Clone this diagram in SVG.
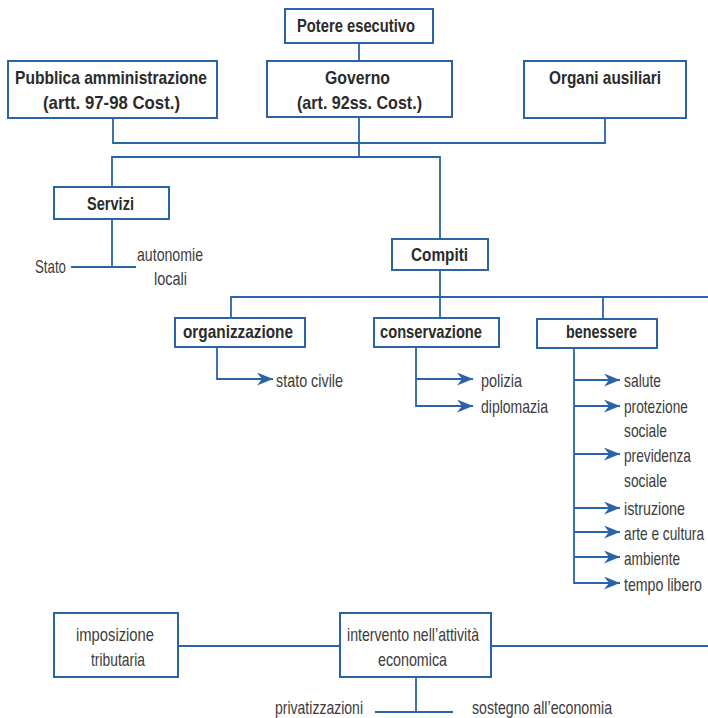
<svg xmlns="http://www.w3.org/2000/svg" width="708" height="718" viewBox="0 0 708 718">
<style>
.box{fill:#fff;stroke:#2a63a8;stroke-width:2}
.ln{fill:none;stroke:#2a63a8;stroke-width:1.8}
.b{font-family:"Liberation Sans Narrow","Liberation Sans",Arial,sans-serif;font-weight:bold;font-size:18.5px;fill:#2b2b2b}
.r{font-family:"Liberation Sans Narrow","Liberation Sans",Arial,sans-serif;font-size:18.5px;fill:#3c3c3c}
</style>
<defs>
<marker id="ar" markerUnits="userSpaceOnUse" markerWidth="17" markerHeight="13" refX="16" refY="6.5" orient="auto" viewBox="0 0 17 13">
<path d="M0,0 L16,6.5 L0,13 L5,6.5 Z" fill="#2a63a8"/>
</marker>
</defs>
<rect width="708" height="718" fill="#fff"/>
<g id="connectors">
<path class="ln" d="M359,43 V61"/>
<path class="ln" d="M113,118 V143 H605 V118"/>
<path class="ln" d="M359,118 V157"/>
<path class="ln" d="M112,187 V157 H440 V239"/>
<path class="ln" d="M112,219 V267 M71,267 H136"/>
<path class="ln" d="M440,270 V318 M231,318 V297 H708 M603,297 V319"/>
<path class="ln" d="M217,347 V379 H273" marker-end="url(#ar)"/>
<path class="ln" d="M416,347 V406 H473" marker-end="url(#ar)"/>
<path class="ln" d="M416,379 H473" marker-end="url(#ar)"/>
<path class="ln" d="M574,348 V583 H620" marker-end="url(#ar)"/>
<path class="ln" d="M574,380 H620" marker-end="url(#ar)"/>
<path class="ln" d="M574,406 H620" marker-end="url(#ar)"/>
<path class="ln" d="M574,454 H620" marker-end="url(#ar)"/>
<path class="ln" d="M574,508 H620" marker-end="url(#ar)"/>
<path class="ln" d="M574,532 H620" marker-end="url(#ar)"/>
<path class="ln" d="M574,557 H620" marker-end="url(#ar)"/>
<path class="ln" d="M178,646 H340 M491,646 H708"/>
<path class="ln" d="M416,677 V712 M375,712 H453"/>
</g>
<g id="potere"><rect class="box" x="285" y="9" width="148" height="34"/><text class="b" x="297" y="32" textLength="118" lengthAdjust="spacingAndGlyphs">Potere esecutivo</text></g>
<g id="pubblica"><rect class="box" x="8" y="61" width="209" height="57"/><text class="b" x="15" y="84" textLength="192" lengthAdjust="spacingAndGlyphs">Pubblica amministrazione</text><text class="b" x="43" y="109" textLength="137" lengthAdjust="spacingAndGlyphs">(artt. 97-98 Cost.)</text></g>
<g id="governo"><rect class="box" x="267" y="61" width="185" height="56"/><text class="b" x="325" y="84" textLength="65" lengthAdjust="spacingAndGlyphs">Governo</text><text class="b" x="297" y="109" textLength="125" lengthAdjust="spacingAndGlyphs">(art. 92ss. Cost.)</text></g>
<g id="organi"><rect class="box" x="524" y="61" width="162" height="57"/><text class="b" x="549" y="84" textLength="112" lengthAdjust="spacingAndGlyphs">Organi ausiliari</text></g>
<g id="servizi"><rect class="box" x="54" y="187" width="115" height="32"/><text class="b" x="87" y="210" textLength="47" lengthAdjust="spacingAndGlyphs">Servizi</text></g>
<g id="servizi-items"><text class="r" x="35" y="273" textLength="31" lengthAdjust="spacingAndGlyphs">Stato</text><text class="r" x="137" y="261" textLength="66" lengthAdjust="spacingAndGlyphs">autonomie</text><text class="r" x="154" y="285" textLength="33" lengthAdjust="spacingAndGlyphs">locali</text></g>
<g id="compiti"><rect class="box" x="392" y="239" width="96" height="31"/><text class="b" x="411" y="261" textLength="57" lengthAdjust="spacingAndGlyphs">Compiti</text></g>
<g id="organizzazione"><rect class="box" x="175" y="318" width="130" height="29"/><text class="b" x="183" y="338" textLength="110" lengthAdjust="spacingAndGlyphs">organizzazione</text><text class="r" x="276" y="387" textLength="67" lengthAdjust="spacingAndGlyphs">stato civile</text></g>
<g id="conservazione"><rect class="box" x="374" y="318" width="125" height="29"/><text class="b" x="380" y="338" textLength="102" lengthAdjust="spacingAndGlyphs">conservazione</text><text class="r" x="481" y="387" textLength="41" lengthAdjust="spacingAndGlyphs">polizia</text><text class="r" x="481" y="413" textLength="67" lengthAdjust="spacingAndGlyphs">diplomazia</text></g>
<g id="benessere"><rect class="box" x="537" y="319" width="120" height="29"/><text class="b" x="566" y="338" textLength="71" lengthAdjust="spacingAndGlyphs">benessere</text>
<g transform="translate(624,0) scale(0.75,1)">
<text class="r" x="0" y="387" textLength="49.3" lengthAdjust="spacingAndGlyphs">salute</text>
<text class="r" x="0" y="413" textLength="85.3" lengthAdjust="spacingAndGlyphs">protezione</text>
<text class="r" x="0" y="437" textLength="57.3" lengthAdjust="spacingAndGlyphs">sociale</text>
<text class="r" x="0" y="462" textLength="89.3" lengthAdjust="spacingAndGlyphs">previdenza</text>
<text class="r" x="0" y="487" textLength="57.3" lengthAdjust="spacingAndGlyphs">sociale</text>
<text class="r" x="0" y="515" textLength="81.3" lengthAdjust="spacingAndGlyphs">istruzione</text>
<text class="r" x="0" y="540" textLength="106.7" lengthAdjust="spacingAndGlyphs">arte e cultura</text>
<text class="r" x="0" y="565" textLength="74.7" lengthAdjust="spacingAndGlyphs">ambiente</text>
<text class="r" x="0" y="591" textLength="104" lengthAdjust="spacingAndGlyphs">tempo libero</text>
</g></g>
<g id="imposizione"><rect class="box" x="54" y="613" width="124" height="64"/><text class="r" x="76" y="641" textLength="78" lengthAdjust="spacingAndGlyphs">imposizione</text><text class="r" x="91" y="666" textLength="54" lengthAdjust="spacingAndGlyphs">tributaria</text></g>
<g id="intervento"><rect class="box" x="340" y="613" width="151" height="64"/><text class="r" x="347" y="641" textLength="132" lengthAdjust="spacingAndGlyphs">intervento nell’attività</text><text class="r" x="378" y="666" textLength="69" lengthAdjust="spacingAndGlyphs">economica</text></g>
<g id="intervento-items"><text class="r" x="275" y="714" textLength="88" lengthAdjust="spacingAndGlyphs">privatizzazioni</text><text class="r" x="472" y="714" textLength="140" lengthAdjust="spacingAndGlyphs">sostegno all’economia</text></g>
</svg>
